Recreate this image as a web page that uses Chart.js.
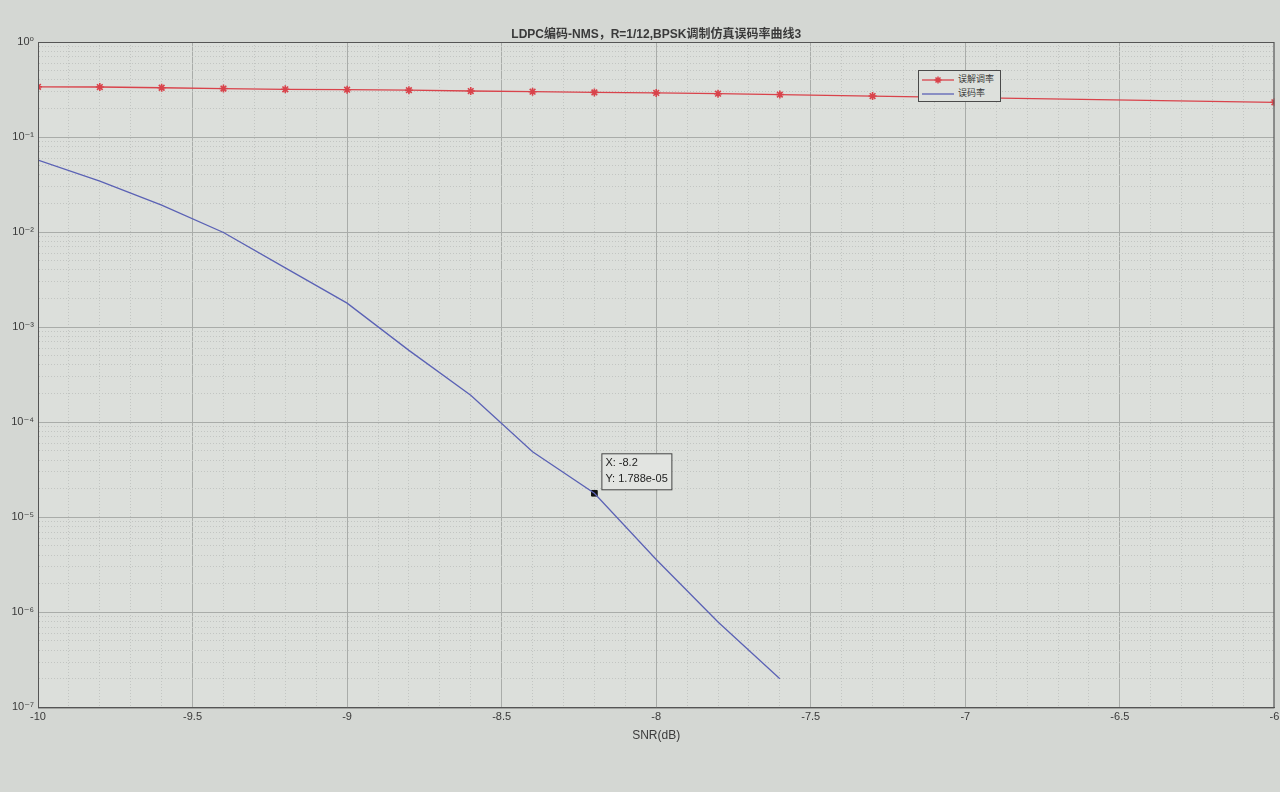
<!DOCTYPE html>
<html>
<head>
<meta charset="utf-8">
<script src="https://cdn.jsdelivr.net/npm/chart.js@4.4.1/dist/chart.umd.min.js"></script>
<style>
body{margin:0;background:#d4d7d3;}
#wrap{position:relative;width:1280px;height:792px;}
#legend{position:absolute;left:918px;top:70px;width:81px;height:30px;border:1px solid #4a4a4a;background:#dde0dc;font-family:"Noto Sans CJK SC",sans-serif;font-size:9px;color:#3a3a3a;}
#legend .row{position:absolute;left:3px;height:12px;line-height:12px;}
#legend svg{vertical-align:middle;}
#legend span{position:absolute;left:36px;top:0;white-space:nowrap;}
</style>
</head>
<body>
<div id="wrap">
<canvas id="berChart" width="1280" height="792"></canvas>
<div id="legend">
  <div class="row" style="top:2px"><svg width="32" height="12"><line x1="0" y1="6" x2="32" y2="6" stroke="#d9434b" stroke-width="1.3"/><path d="M16 2.5V9.5M12.5 6H19.5M13.5 3.5L18.5 8.5M18.5 3.5L13.5 8.5" stroke="#d9434b" stroke-width="1.5"/></svg><span>误解调率</span></div>
  <div class="row" style="top:16px"><svg width="32" height="12"><line x1="0" y1="6" x2="32" y2="6" stroke="#5b62b5" stroke-width="1.3"/></svg><span>误码率</span></div>
</div>
</div>
<script>
var chartTitle = 'LDPC编码-NMS，R=1/12,BPSK调制仿真误码率曲线3';

// 误码率
var snr = [-10, -9.8, -9.6, -9.4, -9.2, -9.0, -8.8, -8.6, -8.4, -8.2, -8.0, -7.8, -7.6];
var ber = [0.0573, 0.0344, 0.0192, 0.0099, 0.0042, 0.00179, 0.00057, 0.000192, 0.000049, 0.00001788, 0.0000036, 0.00000079, 0.0000002];

// 误解调率
var demodSnr = [-10, -9.8, -9.6, -9.4, -9.2, -9.0, -8.8, -8.6, -8.4, -8.2, -8.0, -7.8, -7.6, -7.3, -6.0];
var demodRate = [0.338, 0.336, 0.330, 0.324, 0.318, 0.315, 0.311, 0.305, 0.300, 0.295, 0.291, 0.286, 0.280, 0.270, 0.232];

var xTicks = [-10, -9.5, -9, -8.5, -8, -7.5, -7, -6.5, -6];
var yDecades = [-7, -6, -5, -4, -3, -2, -1, 0];
var yTickLabels = ['10⁻⁷', '10⁻⁶', '10⁻⁵', '10⁻⁴', '10⁻³', '10⁻²', '10⁻¹', '10⁰'];

var tipX = -8.2;
var tipY = 1.788e-05;

var textColor = '#3a3a3a';
var majorGrid = '#a9aca9';
var minorGrid = '#c2c5c2';

function isMajorX(v) {
    return xTicks.indexOf(Math.round(v * 10) / 10) >= 0;
}

function decadeIndex(v) {
    var e = Math.log10(v);
    if (Math.abs(e - Math.round(e)) < 1e-9) {
        return yDecades.indexOf(Math.round(e));
    }
    return -1;
}

var framePlugin = {
    id: 'frame',
    beforeDraw: function (chart) {
        var a = chart.chartArea, ctx = chart.ctx;
        ctx.save();
        ctx.fillStyle = '#dcdfdb';
        ctx.fillRect(a.left, a.top, a.right - a.left, a.bottom - a.top);
        ctx.restore();
    },
    afterDraw: function (chart) {
        var a = chart.chartArea, ctx = chart.ctx;
        ctx.save();
        ctx.strokeStyle = '#555';
        ctx.lineWidth = 1;
        ctx.strokeRect(a.left + 0.5, a.top + 0.5, a.right - a.left - 1, a.bottom - a.top);

        // title centred over the axes
        ctx.fillStyle = textColor;
        ctx.font = 'bold 12px "Liberation Sans", "Noto Sans CJK SC", sans-serif';
        ctx.textAlign = 'center';
        ctx.textBaseline = 'bottom';
        ctx.fillText(chartTitle, (a.left + a.right) / 2, a.top - 1);

        // data tip
        var px = chart.scales.x.getPixelForValue(tipX);
        var py = chart.scales.y.getPixelForValue(tipY);
        var bx = px + 7, by = py - 40;
        ctx.fillStyle = '#e2e4e1';
        ctx.fillRect(bx, by, 70, 36);
        ctx.strokeStyle = '#444';
        ctx.strokeRect(bx + 0.5, by + 0.5, 70, 36);
        ctx.fillStyle = '#222';
        ctx.font = '11px "Liberation Sans", sans-serif';
        ctx.textAlign = 'left';
        ctx.textBaseline = 'middle';
        ctx.fillText('X: ' + tipX, bx + 4, by + 10);
        ctx.fillText('Y: ' + tipY.toExponential(3).replace('e-', 'e-0'), bx + 4, by + 26);
        ctx.restore();
    }
};

var ctx = document.getElementById('berChart').getContext('2d');
var chart = new Chart(ctx, {
    type: 'line',
    data: {
        datasets: [{
            label: '误解调率',
            data: demodSnr.map(function (x, i) { return {x: x, y: demodRate[i]}; }),
            borderColor: '#d9434b',
            backgroundColor: '#d9434b',
            borderWidth: 1.3,
            pointStyle: 'star',
            pointRadius: 4,
            pointBorderWidth: 1.6,
            tension: 0
        }, {
            label: '误码率',
            data: snr.map(function (x, i) { return {x: x, y: ber[i]}; }),
            borderColor: '#5b62b5',
            borderWidth: 1.3,
            pointRadius: 0,
            tension: 0
        }, {
            label: 'tip',
            data: [{x: tipX, y: tipY}],
            showLine: false,
            pointStyle: 'rect',
            pointRadius: 4,
            backgroundColor: '#111',
            borderColor: '#111',
            borderWidth: 1
        }]
    },
    options: {
        responsive: false,
        animation: false,
        layout: {padding: {top: 42, right: 2, bottom: 49, left: 0}},
        plugins: {
            legend: {display: false},
            title: {display: false},
            tooltip: {enabled: false}
        },
        scales: {
            x: {
                type: 'linear',
                min: -10,
                max: -6,
                afterBuildTicks: function (scale) {
                    var t = [];
                    for (var i = 0; i <= 40; i++) {
                        t.push({value: Math.round((-10 + i * 0.1) * 10) / 10});
                    }
                    scale.ticks = t;
                },
                afterFit: function (scale) {
                    scale.paddingLeft = 0;
                    scale.paddingRight = 0;
                },
                ticks: {
                    autoSkip: false,
                    maxRotation: 0,
                    padding: 3,
                    color: textColor,
                    font: {size: 11, family: '"Liberation Sans", sans-serif'},
                    callback: function (v) {
                        return isMajorX(v) ? String(Math.round(v * 10) / 10) : '';
                    }
                },
                grid: {
                    drawTicks: false,
                    color: function (c) {
                        return c.tick && isMajorX(c.tick.value) ? majorGrid : minorGrid;
                    }
                },
                border: {
                    color: '#555',
                    dash: function (c) {
                        return c.tick && !isMajorX(c.tick.value) ? [1, 2] : [];
                    }
                },
                title: {
                    display: true,
                    text: 'SNR(dB)',
                    color: textColor,
                    font: {size: 12, family: '"Liberation Sans", sans-serif'},
                    padding: {top: 2, bottom: 0}
                }
            },
            y: {
                type: 'logarithmic',
                min: 1e-7,
                max: 1,
                afterBuildTicks: function (scale) {
                    var t = [];
                    for (var d = -7; d < 0; d++) {
                        for (var m = 1; m <= 9; m++) {
                            t.push({value: m * Math.pow(10, d)});
                        }
                    }
                    t.push({value: 1});
                    scale.ticks = t;
                },
                afterFit: function (scale) {
                    scale.width = 38;
                    scale.paddingTop = 0;
                    scale.paddingBottom = 0;
                },
                ticks: {
                    autoSkip: false,
                    padding: 4,
                    color: textColor,
                    font: {size: 11, family: '"Liberation Sans", "DejaVu Sans", sans-serif'},
                    callback: function (v) {
                        var k = decadeIndex(v);
                        return k >= 0 ? yTickLabels[k] : '';
                    }
                },
                grid: {
                    drawTicks: false,
                    color: function (c) {
                        return c.tick && decadeIndex(c.tick.value) >= 0 ? majorGrid : minorGrid;
                    }
                },
                border: {
                    color: '#555',
                    dash: function (c) {
                        return c.tick && decadeIndex(c.tick.value) < 0 ? [1, 2] : [];
                    }
                }
            }
        }
    },
    plugins: [framePlugin]
});
</script>
</body>
</html>
